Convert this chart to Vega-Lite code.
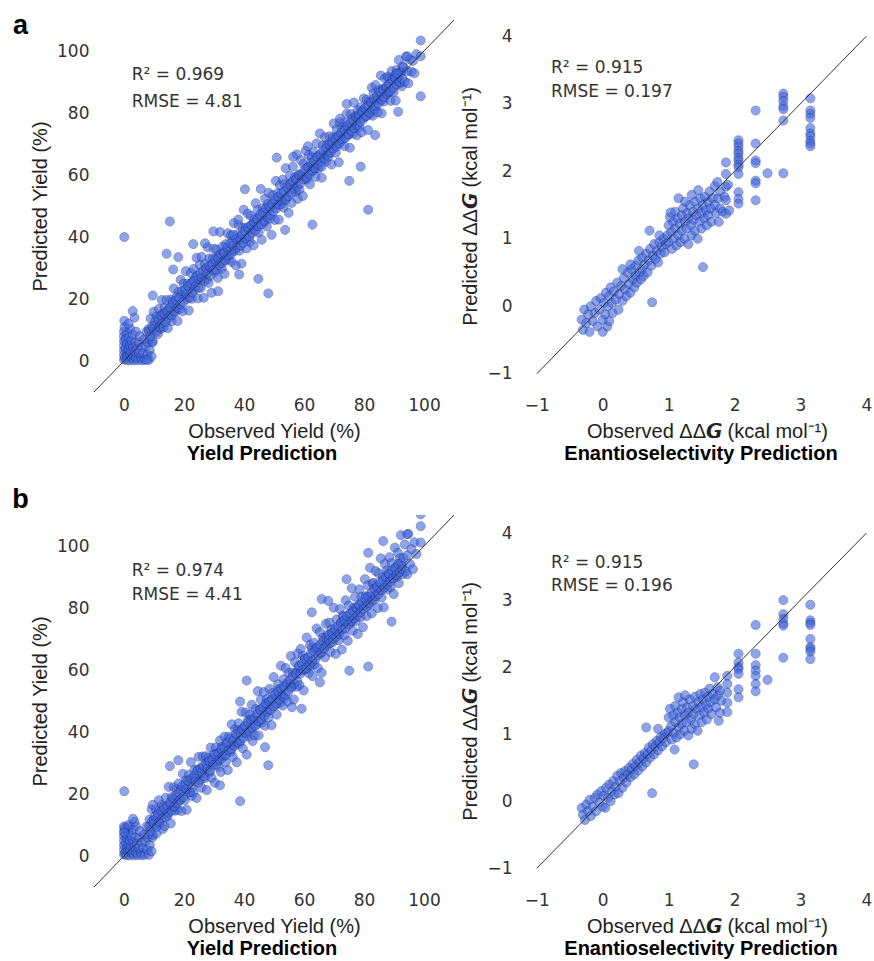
{
"$schema": "https://vega.github.io/schema/vega-lite/v6.json",
"padding": {"left": 12, "top": 12, "right": 0, "bottom": 0},
"background": "white",
"columns": 2,
"spacing": {"row": 123, "column": 63},
"bounds": "flush",
"datasets": {
"ya": [
{"obs":0,"pred":0.5},{"obs":0,"pred":2},{"obs":0,"pred":3.5},{"obs":0,"pred":5},{"obs":0,"pred":6.5},{"obs":0,"pred":8},{"obs":0,"pred":9.5},{"obs":0.3,"pred":1},{"obs":0.5,"pred":4},{"obs":0.5,"pred":7},{"obs":0.8,"pred":0.3},{"obs":1,"pred":2.5},{"obs":1,"pred":5.5},{"obs":1,"pred":9},{"obs":1.2,"pred":1.5},{"obs":1.5,"pred":3.8},{"obs":1.5,"pred":7.5},{"obs":1.8,"pred":0.2},{"obs":2,"pred":2},{"obs":2,"pred":5},{"obs":2,"pred":10.5},{"obs":2.3,"pred":3},{"obs":2.5,"pred":6.5},{"obs":2.7,"pred":0.8},{"obs":3,"pred":1.8},{"obs":3,"pred":4.5},{"obs":3,"pred":8.5},{"obs":3.3,"pred":0.2},{"obs":3.5,"pred":3},{"obs":3.8,"pred":6},{"obs":4,"pred":1},{"obs":4,"pred":9.5},{"obs":4.3,"pred":4},{"obs":4.6,"pred":0.3},{"obs":5,"pred":2.5},{"obs":5,"pred":6},{"obs":5.3,"pred":8},{"obs":5.6,"pred":1},{"obs":6,"pred":4.5},{"obs":6,"pred":0.2},{"obs":6.4,"pred":2.5},{"obs":6.8,"pred":7},{"obs":7,"pred":0.5},{"obs":7.2,"pred":4.8},{"obs":7.5,"pred":9.5},{"obs":7.8,"pred":2},{"obs":8,"pred":6},{"obs":8.3,"pred":0.4},{"obs":8.6,"pred":3.5},{"obs":9.2,"pred":1.5},{"obs":9.5,"pred":6},{"obs":0.2,"pred":11},{"obs":0.1,"pred":13},{"obs":1.5,"pred":12},{"obs":3.5,"pred":14},
{"obs":8.2,"pred":10.3},{"obs":8.5,"pred":7.0},{"obs":8.9,"pred":13.7},{"obs":9.2,"pred":9.5},{"obs":9.6,"pred":6.4},{"obs":9.9,"pred":15.9},{"obs":10.3,"pred":11.5},{"obs":10.6,"pred":9.8},{"obs":10.9,"pred":14.4},{"obs":11.3,"pred":8.7},{"obs":11.6,"pred":16.8},{"obs":12.0,"pred":12.9},{"obs":12.3,"pred":10.4},{"obs":12.6,"pred":19.7},{"obs":12.9,"pred":15.3},
{"obs":8.4,"pred":9.6},{"obs":8.8,"pred":7.9},{"obs":9.4,"pred":11.2},{"obs":9.8,"pred":10.5},{"obs":10.4,"pred":12.8},{"obs":10.8,"pred":9.4},{"obs":11.4,"pred":13.5},{"obs":11.8,"pred":11.0},{"obs":12.4,"pred":14.6},{"obs":12.8,"pred":12.1},
{"obs":13.2,"pred":10.8},{"obs":13.5,"pred":17.1},{"obs":13.9,"pred":14.6},{"obs":14.2,"pred":19.7},{"obs":14.6,"pred":10.6},{"obs":14.9,"pred":16.7},{"obs":15.3,"pred":14.8},{"obs":15.6,"pred":19.8},{"obs":15.9,"pred":12.8},{"obs":16.3,"pred":19.2},{"obs":16.6,"pred":23.4},{"obs":17.0,"pred":15.8},{"obs":17.3,"pred":17.7},{"obs":17.6,"pred":20.9},{"obs":17.9,"pred":12.9},
{"obs":13.4,"pred":15.2},{"obs":13.8,"pred":12.6},{"obs":14.4,"pred":16.1},{"obs":14.8,"pred":13.9},{"obs":15.4,"pred":17.3},{"obs":15.8,"pred":14.7},{"obs":16.4,"pred":18.5},{"obs":16.8,"pred":16.0},{"obs":17.4,"pred":19.6},{"obs":17.8,"pred":17.1},
{"obs":18.2,"pred":22.3},{"obs":18.5,"pred":16.7},{"obs":18.9,"pred":26.2},{"obs":19.2,"pred":21.4},{"obs":19.6,"pred":16.0},{"obs":19.9,"pred":24.9},{"obs":20.3,"pred":20.9},{"obs":20.6,"pred":29.0},{"obs":20.9,"pred":20.0},{"obs":21.3,"pred":25.0},{"obs":21.6,"pred":16.3},{"obs":22.0,"pred":23.4},{"obs":22.3,"pred":28.4},{"obs":22.6,"pred":20.1},{"obs":22.9,"pred":25.7},
{"obs":18.4,"pred":20.4},{"obs":18.8,"pred":18.2},{"obs":19.4,"pred":22.5},{"obs":19.8,"pred":19.0},{"obs":20.4,"pred":23.1},{"obs":20.8,"pred":21.6},{"obs":21.4,"pred":24.2},{"obs":21.8,"pred":20.5},{"obs":22.4,"pred":25.0},{"obs":22.8,"pred":22.1},
{"obs":23.2,"pred":29.7},{"obs":23.5,"pred":23.1},{"obs":23.9,"pred":26.9},{"obs":24.2,"pred":33.3},{"obs":24.6,"pred":20.2},{"obs":24.9,"pred":26.4},{"obs":25.3,"pred":31.1},{"obs":25.6,"pred":23.6},{"obs":25.9,"pred":33.6},{"obs":26.3,"pred":26.4},{"obs":26.6,"pred":20.4},{"obs":27.0,"pred":31.3},{"obs":27.3,"pred":29.3},{"obs":27.6,"pred":26.3},{"obs":27.9,"pred":36.7},
{"obs":23.4,"pred":25.8},{"obs":23.8,"pred":24.0},{"obs":24.4,"pred":27.5},{"obs":24.8,"pred":23.6},{"obs":25.4,"pred":28.3},{"obs":25.8,"pred":26.9},{"obs":26.4,"pred":29.1},{"obs":26.8,"pred":25.7},{"obs":27.4,"pred":30.0},{"obs":27.8,"pred":28.2},
{"obs":28.2,"pred":25.2},{"obs":28.5,"pred":33.1},{"obs":28.9,"pred":30.0},{"obs":29.2,"pred":22.0},{"obs":29.6,"pred":33.0},{"obs":29.9,"pred":36.2},{"obs":30.3,"pred":28.7},{"obs":30.6,"pred":31.4},{"obs":30.9,"pred":36.0},{"obs":31.3,"pred":26.8},{"obs":31.6,"pred":34.1},{"obs":32.0,"pred":41.6},{"obs":32.3,"pred":32.1},{"obs":32.6,"pred":29.8},{"obs":32.9,"pred":36.9},
{"obs":28.4,"pred":30.6},{"obs":28.8,"pred":27.5},{"obs":29.4,"pred":31.2},{"obs":29.8,"pred":29.4},{"obs":30.4,"pred":32.8},{"obs":30.8,"pred":29.6},{"obs":31.4,"pred":33.2},{"obs":31.8,"pred":31.0},{"obs":32.4,"pred":34.5},{"obs":32.8,"pred":31.6},
{"obs":33.2,"pred":35.1},{"obs":33.5,"pred":28.1},{"obs":33.9,"pred":37.7},{"obs":34.2,"pred":33.5},{"obs":34.6,"pred":41.2},{"obs":34.9,"pred":32.7},{"obs":35.3,"pred":35.6},{"obs":35.6,"pred":40.5},{"obs":35.9,"pred":32.0},{"obs":36.3,"pred":38.9},{"obs":36.6,"pred":44.5},{"obs":37.0,"pred":36.0},{"obs":37.3,"pred":30.8},{"obs":37.6,"pred":40.7},{"obs":37.9,"pred":38.8},
{"obs":33.4,"pred":34.8},{"obs":33.8,"pred":32.5},{"obs":34.4,"pred":36.6},{"obs":34.8,"pred":34.1},{"obs":35.4,"pred":37.9},{"obs":35.8,"pred":34.6},{"obs":36.4,"pred":37.2},{"obs":36.8,"pred":35.5},{"obs":37.4,"pred":39.4},{"obs":37.8,"pred":36.7},
{"obs":38.2,"pred":43.9},{"obs":38.5,"pred":35.6},{"obs":38.9,"pred":39.1},{"obs":39.2,"pred":31.4},{"obs":39.6,"pred":42.9},{"obs":39.9,"pred":48.8},{"obs":40.3,"pred":39.2},{"obs":40.6,"pred":43.0},{"obs":40.9,"pred":36.3},{"obs":41.3,"pred":47.5},{"obs":41.6,"pred":42.2},{"obs":42.0,"pred":38.5},{"obs":42.3,"pred":46.8},{"obs":42.6,"pred":43.9},{"obs":42.9,"pred":42.6},
{"obs":38.4,"pred":39.9},{"obs":38.8,"pred":37.2},{"obs":39.4,"pred":40.8},{"obs":39.8,"pred":38.1},{"obs":40.4,"pred":41.9},{"obs":40.8,"pred":39.6},{"obs":41.4,"pred":43.1},{"obs":41.8,"pred":40.2},{"obs":42.4,"pred":43.9},{"obs":42.8,"pred":41.3},
{"obs":43.2,"pred":37.3},{"obs":43.5,"pred":45.7},{"obs":43.9,"pred":50.9},{"obs":44.2,"pred":43.4},{"obs":44.6,"pred":48.7},{"obs":44.9,"pred":41.5},{"obs":45.3,"pred":46.3},{"obs":45.6,"pred":55.5},{"obs":45.9,"pred":39.1},{"obs":46.3,"pred":49.3},{"obs":46.6,"pred":44.7},{"obs":47.0,"pred":52.4},{"obs":47.3,"pred":47.4},{"obs":47.6,"pred":43.4},{"obs":47.9,"pred":50.6},
{"obs":43.4,"pred":44.6},{"obs":43.8,"pred":42.0},{"obs":44.4,"pred":45.8},{"obs":44.8,"pred":43.5},{"obs":45.4,"pred":47.2},{"obs":45.8,"pred":44.1},{"obs":46.4,"pred":47.9},{"obs":46.8,"pred":45.2},{"obs":47.4,"pred":49.3},{"obs":47.8,"pred":46.4},
{"obs":48.2,"pred":54.3},{"obs":48.5,"pred":45.9},{"obs":48.9,"pred":49.4},{"obs":49.2,"pred":40.7},{"obs":49.6,"pred":53.5},{"obs":49.9,"pred":51.5},{"obs":50.3,"pred":45.5},{"obs":50.6,"pred":58.1},{"obs":50.9,"pred":50.4},{"obs":51.3,"pred":54.2},{"obs":51.6,"pred":45.6},{"obs":52.0,"pred":56.7},{"obs":52.3,"pred":52.3},{"obs":52.6,"pred":50.5},{"obs":52.9,"pred":58.5},
{"obs":48.4,"pred":49.8},{"obs":48.8,"pred":47.1},{"obs":49.4,"pred":50.6},{"obs":49.8,"pred":48.3},{"obs":50.4,"pred":52.1},{"obs":50.8,"pred":49.2},{"obs":51.4,"pred":52.9},{"obs":51.8,"pred":50.4},{"obs":52.4,"pred":54.0},{"obs":52.8,"pred":51.5},
{"obs":53.2,"pred":49.5},{"obs":53.5,"pred":57.0},{"obs":53.9,"pred":62.2},{"obs":54.2,"pred":52.8},{"obs":54.6,"pred":55.5},{"obs":54.9,"pred":47.8},{"obs":55.3,"pred":59.7},{"obs":55.6,"pred":57.4},{"obs":55.9,"pred":51.0},{"obs":56.3,"pred":62.7},{"obs":56.6,"pred":56.5},{"obs":57.0,"pred":59.3},{"obs":57.3,"pred":54.6},{"obs":57.6,"pred":66.6},{"obs":57.9,"pred":52.3},
{"obs":53.4,"pred":54.6},{"obs":53.8,"pred":52.0},{"obs":54.4,"pred":55.9},{"obs":54.8,"pred":53.1},{"obs":55.4,"pred":56.8},{"obs":55.8,"pred":54.3},{"obs":56.4,"pred":58.0},{"obs":56.8,"pred":55.6},{"obs":57.4,"pred":58.7},{"obs":57.8,"pred":56.2},
{"obs":58.2,"pred":60.2},{"obs":58.5,"pred":55.2},{"obs":58.9,"pred":64.8},{"obs":59.2,"pred":59.6},{"obs":59.6,"pred":53.2},{"obs":59.9,"pred":63.5},{"obs":60.3,"pred":59.4},{"obs":60.6,"pred":67.8},{"obs":60.9,"pred":58.5},{"obs":61.3,"pred":62.5},{"obs":61.6,"pred":66.4},{"obs":62.0,"pred":57.0},{"obs":62.3,"pred":63.0},{"obs":62.6,"pred":65.7},{"obs":62.9,"pred":61.2},
{"obs":58.4,"pred":59.9},{"obs":58.8,"pred":57.3},{"obs":59.4,"pred":60.5},{"obs":59.8,"pred":58.6},{"obs":60.4,"pred":62.0},{"obs":60.8,"pred":59.1},{"obs":61.4,"pred":62.6},{"obs":61.8,"pred":60.2},{"obs":62.4,"pred":63.9},{"obs":62.8,"pred":61.4},
{"obs":63.2,"pred":67.4},{"obs":63.5,"pred":62.3},{"obs":63.9,"pred":59.4},{"obs":64.2,"pred":70.2},{"obs":64.6,"pred":66.1},{"obs":64.9,"pred":62.1},{"obs":65.3,"pred":73.4},{"obs":65.6,"pred":65.6},{"obs":65.9,"pred":59.1},{"obs":66.3,"pred":69.5},{"obs":66.6,"pred":66.2},{"obs":67.0,"pred":72.2},{"obs":67.3,"pred":64.3},{"obs":67.6,"pred":69.7},{"obs":67.9,"pred":66.9},
{"obs":63.4,"pred":64.5},{"obs":63.8,"pred":62.1},{"obs":64.4,"pred":65.8},{"obs":64.8,"pred":63.3},{"obs":65.4,"pred":66.6},{"obs":65.8,"pred":64.2},{"obs":66.4,"pred":67.9},{"obs":66.8,"pred":65.5},{"obs":67.4,"pred":68.8},{"obs":67.8,"pred":66.4},
{"obs":68.2,"pred":65.9},{"obs":68.5,"pred":72.5},{"obs":68.9,"pred":69.7},{"obs":69.2,"pred":63.4},{"obs":69.6,"pred":72.2},{"obs":69.9,"pred":76.6},{"obs":70.3,"pred":69.7},{"obs":70.6,"pred":67.2},{"obs":70.9,"pred":74.7},{"obs":71.3,"pred":72.3},{"obs":71.6,"pred":64.1},{"obs":72.0,"pred":77.0},{"obs":72.3,"pred":70.8},{"obs":72.6,"pred":75.1},{"obs":72.9,"pred":73.1},
{"obs":68.4,"pred":69.7},{"obs":68.8,"pred":67.3},{"obs":69.4,"pred":70.5},{"obs":69.8,"pred":68.6},{"obs":70.4,"pred":71.8},{"obs":70.8,"pred":69.2},{"obs":71.4,"pred":72.7},{"obs":71.8,"pred":70.1},{"obs":72.4,"pred":73.6},{"obs":72.8,"pred":71.5},
{"obs":73.2,"pred":76.8},{"obs":73.5,"pred":69.3},{"obs":73.9,"pred":75.2},{"obs":74.2,"pred":79.7},{"obs":74.6,"pred":72.7},{"obs":74.9,"pred":75.1},{"obs":75.3,"pred":68.8},{"obs":75.6,"pred":79.7},{"obs":75.9,"pred":78.1},{"obs":76.3,"pred":73.4},{"obs":76.6,"pred":83.4},{"obs":77.0,"pred":76.2},{"obs":77.3,"pred":79.1},{"obs":77.6,"pred":72.8},{"obs":77.9,"pred":80.9},
{"obs":73.4,"pred":74.4},{"obs":73.8,"pred":72.0},{"obs":74.4,"pred":75.9},{"obs":74.8,"pred":73.2},{"obs":75.4,"pred":76.7},{"obs":75.8,"pred":74.3},{"obs":76.4,"pred":77.5},{"obs":76.8,"pred":75.1},{"obs":77.4,"pred":78.6},{"obs":77.8,"pred":76.0},
{"obs":78.2,"pred":78.7},{"obs":78.5,"pred":75.5},{"obs":78.9,"pred":81.8},{"obs":79.2,"pred":73.8},{"obs":79.6,"pred":80.8},{"obs":79.9,"pred":84.7},{"obs":80.3,"pred":78.7},{"obs":80.6,"pred":80.4},{"obs":80.9,"pred":84.3},{"obs":81.3,"pred":74.5},{"obs":81.6,"pred":83.6},{"obs":82.0,"pred":79.6},{"obs":82.3,"pred":83.2},{"obs":82.6,"pred":88.2},{"obs":82.9,"pred":79.1},
{"obs":78.4,"pred":79.5},{"obs":78.8,"pred":77.1},{"obs":79.4,"pred":80.3},{"obs":79.8,"pred":78.2},{"obs":80.4,"pred":81.6},{"obs":80.8,"pred":79.0},{"obs":81.4,"pred":82.2},{"obs":81.8,"pred":80.1},{"obs":82.4,"pred":83.4},{"obs":82.8,"pred":81.0},
{"obs":83.2,"pred":86.4},{"obs":83.5,"pred":81.3},{"obs":83.9,"pred":89.0},{"obs":84.2,"pred":84.3},{"obs":84.6,"pred":80.2},{"obs":84.9,"pred":87.3},{"obs":85.3,"pred":84.4},{"obs":85.6,"pred":92.1},{"obs":85.9,"pred":79.9},{"obs":86.3,"pred":87.8},{"obs":86.6,"pred":83.7},{"obs":87.0,"pred":91.2},{"obs":87.3,"pred":87.9},{"obs":87.6,"pred":86.3},{"obs":87.9,"pred":91.7},
{"obs":83.4,"pred":84.7},{"obs":83.8,"pred":82.3},{"obs":84.4,"pred":85.5},{"obs":84.8,"pred":83.0},{"obs":85.4,"pred":86.8},{"obs":85.8,"pred":84.2},{"obs":86.4,"pred":87.4},{"obs":86.8,"pred":85.1},{"obs":87.4,"pred":88.5},{"obs":87.8,"pred":86.0},
{"obs":88.2,"pred":86.7},{"obs":88.5,"pred":91.3},{"obs":88.9,"pred":83.9},{"obs":89.2,"pred":93.5},{"obs":89.6,"pred":90.0},{"obs":89.9,"pred":86.8},{"obs":90.3,"pred":92.2},{"obs":90.6,"pred":84.0},{"obs":90.9,"pred":93.9},{"obs":91.3,"pred":90.6},{"obs":91.6,"pred":97.1},{"obs":92.0,"pred":89.5},{"obs":92.3,"pred":93.3},{"obs":92.6,"pred":88.6},{"obs":92.9,"pred":95.1},
{"obs":88.4,"pred":89.4},{"obs":88.8,"pred":87.0},{"obs":89.4,"pred":90.6},{"obs":89.8,"pred":88.1},{"obs":90.4,"pred":91.3},{"obs":90.8,"pred":89.2},{"obs":91.4,"pred":92.7},{"obs":91.8,"pred":90.0},{"obs":92.4,"pred":93.1},{"obs":92.8,"pred":91.0},
{"obs":93.2,"pred":94.7},{"obs":93.6,"pred":90.1},{"obs":94.0,"pred":98.2},{"obs":94.4,"pred":93.4},{"obs":94.8,"pred":89.6},{"obs":95.3,"pred":97.3},{"obs":95.8,"pred":93.3},{"obs":96.3,"pred":96.8},{"obs":96.8,"pred":92.8},{"obs":97.5,"pred":99.0},
{"obs":0.1,"pred":40},{"obs":15.3,"pred":45},{"obs":14.2,"pred":34.6},{"obs":18.1,"pred":33.5},{"obs":16.4,"pred":29.5},{"obs":23.1,"pred":37.7},{"obs":27,"pred":38},{"obs":9.6,"pred":21.1},{"obs":2.9,"pred":16.1},{"obs":44.8,"pred":26.5},{"obs":48.1,"pred":21.8},{"obs":62.8,"pred":44},{"obs":81.4,"pred":48.8},{"obs":75.1,"pred":58.1},{"obs":78.9,"pred":62.7},{"obs":50.9,"pred":65.6},{"obs":56.4,"pred":65.9},{"obs":40.3,"pred":55.4},{"obs":98.9,"pred":85.4},{"obs":98.9,"pred":98.3},{"obs":98.9,"pred":103.4},{"obs":94.4,"pred":98.3},{"obs":74.2,"pred":82.9},{"obs":72,"pred":78.2},{"obs":91.4,"pred":80.4},{"obs":90.9,"pred":92.7},{"obs":83.7,"pred":72.9},{"obs":29.8,"pred":41.8},{"obs":36.4,"pred":40.7},{"obs":53.7,"pred":42.3},{"obs":61.3,"pred":69.3},{"obs":65.9,"pred":62.7},{"obs":31.4,"pred":22.5},{"obs":38.4,"pred":27.9},{"obs":38.1,"pred":45.6},{"obs":7.6,"pred":0.3}
],
"yb": [
{"obs":0,"pred":0.5},{"obs":0,"pred":2},{"obs":0,"pred":3.5},{"obs":0,"pred":5},{"obs":0,"pred":6.5},{"obs":0,"pred":8},{"obs":0,"pred":9.5},{"obs":0.3,"pred":1},{"obs":0.5,"pred":4},{"obs":0.5,"pred":7},{"obs":0.8,"pred":0.3},{"obs":1,"pred":2.5},{"obs":1,"pred":5.5},{"obs":1,"pred":9},{"obs":1.2,"pred":1.5},{"obs":1.5,"pred":3.8},{"obs":1.5,"pred":7.5},{"obs":1.8,"pred":0.2},{"obs":2,"pred":2},{"obs":2,"pred":5},{"obs":2,"pred":9.5},{"obs":2.3,"pred":3},{"obs":2.5,"pred":6.5},{"obs":2.7,"pred":0.8},{"obs":3,"pred":1.8},{"obs":3,"pred":4.5},{"obs":3,"pred":8.5},{"obs":3.3,"pred":0.2},{"obs":3.5,"pred":3},{"obs":3.8,"pred":6},{"obs":4,"pred":1},{"obs":4,"pred":9.5},{"obs":4.3,"pred":4},{"obs":4.6,"pred":0.3},{"obs":5,"pred":2.5},{"obs":5,"pred":6},{"obs":5.3,"pred":8},{"obs":5.6,"pred":1},{"obs":6,"pred":4.5},{"obs":6,"pred":0.2},{"obs":6.4,"pred":2.5},{"obs":6.8,"pred":7},{"obs":7,"pred":0.5},{"obs":7.2,"pred":4.8},{"obs":7.5,"pred":9.5},{"obs":7.8,"pred":2},{"obs":8,"pred":6},{"obs":8.3,"pred":0.4},{"obs":8.6,"pred":3.5},{"obs":9.2,"pred":1.5},{"obs":9.5,"pred":6},{"obs":0.2,"pred":9},{"obs":0.1,"pred":7.5},{"obs":1.5,"pred":10},{"obs":3.5,"pred":11},
{"obs":8.2,"pred":7.0},{"obs":8.5,"pred":11.8},{"obs":8.9,"pred":9.4},{"obs":9.2,"pred":15.1},{"obs":9.6,"pred":6.8},{"obs":9.9,"pred":11.6},{"obs":10.3,"pred":9.9},{"obs":10.6,"pred":15.1},{"obs":10.9,"pred":7.3},{"obs":11.3,"pred":13.6},{"obs":11.6,"pred":18.0},{"obs":12.0,"pred":10.3},{"obs":12.3,"pred":13.2},{"obs":12.6,"pred":16.4},{"obs":12.9,"pred":8.7},
{"obs":8.4,"pred":9.6},{"obs":8.8,"pred":7.9},{"obs":9.4,"pred":11.2},{"obs":9.8,"pred":10.5},{"obs":10.4,"pred":12.8},{"obs":10.8,"pred":9.4},{"obs":11.4,"pred":13.5},{"obs":11.8,"pred":11.0},{"obs":12.4,"pred":14.6},{"obs":12.8,"pred":12.1},
{"obs":13.2,"pred":15.8},{"obs":13.5,"pred":9.6},{"obs":13.9,"pred":18.8},{"obs":14.2,"pred":14.4},{"obs":14.6,"pred":13.0},{"obs":14.9,"pred":22.3},{"obs":15.3,"pred":16.6},{"obs":15.6,"pred":10.5},{"obs":15.9,"pred":19.0},{"obs":16.3,"pred":15.6},{"obs":16.6,"pred":22.2},{"obs":17.0,"pred":14.6},{"obs":17.3,"pred":18.1},{"obs":17.6,"pred":21.6},{"obs":17.9,"pred":14.9},
{"obs":13.4,"pred":15.2},{"obs":13.8,"pred":12.6},{"obs":14.4,"pred":16.1},{"obs":14.8,"pred":13.9},{"obs":15.4,"pred":17.3},{"obs":15.8,"pred":14.7},{"obs":16.4,"pred":18.5},{"obs":16.8,"pred":16.0},{"obs":17.4,"pred":19.6},{"obs":17.8,"pred":17.1},
{"obs":18.2,"pred":23.4},{"obs":18.5,"pred":17.9},{"obs":18.9,"pred":21.3},{"obs":19.2,"pred":14.5},{"obs":19.6,"pred":26.5},{"obs":19.9,"pred":20.8},{"obs":20.3,"pred":18.0},{"obs":20.6,"pred":24.4},{"obs":20.9,"pred":14.9},{"obs":21.3,"pred":22.9},{"obs":21.6,"pred":26.2},{"obs":22.0,"pred":20.6},{"obs":22.3,"pred":30.3},{"obs":22.6,"pred":19.4},{"obs":22.9,"pred":24.9},
{"obs":18.4,"pred":20.4},{"obs":18.8,"pred":18.2},{"obs":19.4,"pred":22.5},{"obs":19.8,"pred":19.0},{"obs":20.4,"pred":23.1},{"obs":20.8,"pred":21.6},{"obs":21.4,"pred":24.2},{"obs":21.8,"pred":20.5},{"obs":22.4,"pred":25.0},{"obs":22.8,"pred":22.1},
{"obs":23.2,"pred":20.5},{"obs":23.5,"pred":27.8},{"obs":23.9,"pred":24.9},{"obs":24.2,"pred":18.7},{"obs":24.6,"pred":27.8},{"obs":24.9,"pred":32.0},{"obs":25.3,"pred":24.5},{"obs":25.6,"pred":28.1},{"obs":25.9,"pred":22.0},{"obs":26.3,"pred":32.1},{"obs":26.6,"pred":26.9},{"obs":27.0,"pred":25.1},{"obs":27.3,"pred":32.2},{"obs":27.6,"pred":21.3},{"obs":27.9,"pred":30.1},
{"obs":23.4,"pred":25.8},{"obs":23.8,"pred":24.0},{"obs":24.4,"pred":27.5},{"obs":24.8,"pred":23.6},{"obs":25.4,"pred":28.3},{"obs":25.8,"pred":26.9},{"obs":26.4,"pred":29.1},{"obs":26.8,"pred":25.7},{"obs":27.4,"pred":30.0},{"obs":27.8,"pred":28.2},
{"obs":28.2,"pred":31.6},{"obs":28.5,"pred":27.0},{"obs":28.9,"pred":35.0},{"obs":29.2,"pred":25.2},{"obs":29.6,"pred":30.2},{"obs":29.9,"pred":32.8},{"obs":30.3,"pred":23.6},{"obs":30.6,"pred":35.0},{"obs":30.9,"pred":30.6},{"obs":31.3,"pred":33.1},{"obs":31.6,"pred":28.7},{"obs":32.0,"pred":37.3},{"obs":32.3,"pred":27.1},{"obs":32.6,"pred":35.2},{"obs":32.9,"pred":32.9},
{"obs":28.4,"pred":30.6},{"obs":28.8,"pred":27.5},{"obs":29.4,"pred":31.2},{"obs":29.8,"pred":29.4},{"obs":30.4,"pred":32.8},{"obs":30.8,"pred":29.6},{"obs":31.4,"pred":33.2},{"obs":31.8,"pred":31.0},{"obs":32.4,"pred":34.5},{"obs":32.8,"pred":31.6},
{"obs":33.2,"pred":32.3},{"obs":33.5,"pred":38.5},{"obs":33.9,"pred":30.2},{"obs":34.2,"pred":36.3},{"obs":34.6,"pred":27.7},{"obs":34.9,"pred":38.5},{"obs":35.3,"pred":35.7},{"obs":35.6,"pred":33.6},{"obs":35.9,"pred":42.5},{"obs":36.3,"pred":31.9},{"obs":36.6,"pred":37.8},{"obs":37.0,"pred":40.9},{"obs":37.3,"pred":36.0},{"obs":37.6,"pred":30.2},{"obs":37.9,"pred":40.6},
{"obs":33.4,"pred":34.8},{"obs":33.8,"pred":32.5},{"obs":34.4,"pred":36.6},{"obs":34.8,"pred":34.1},{"obs":35.4,"pred":37.9},{"obs":35.8,"pred":34.6},{"obs":36.4,"pred":37.2},{"obs":36.8,"pred":35.5},{"obs":37.4,"pred":39.4},{"obs":37.8,"pred":36.7},
{"obs":38.2,"pred":42.8},{"obs":38.5,"pred":36.3},{"obs":38.9,"pred":39.7},{"obs":39.2,"pred":46.5},{"obs":39.6,"pred":34.7},{"obs":39.9,"pred":41.4},{"obs":40.3,"pred":39.8},{"obs":40.6,"pred":46.3},{"obs":40.9,"pred":32.7},{"obs":41.3,"pred":43.7},{"obs":41.6,"pred":38.5},{"obs":42.0,"pred":45.6},{"obs":42.3,"pred":40.9},{"obs":42.6,"pred":48.8},{"obs":42.9,"pred":37.1},
{"obs":38.4,"pred":39.9},{"obs":38.8,"pred":37.2},{"obs":39.4,"pred":40.8},{"obs":39.8,"pred":38.1},{"obs":40.4,"pred":41.9},{"obs":40.8,"pred":39.6},{"obs":41.4,"pred":43.1},{"obs":41.8,"pred":40.2},{"obs":42.4,"pred":43.9},{"obs":42.8,"pred":41.3},
{"obs":43.2,"pred":44.1},{"obs":43.5,"pred":38.9},{"obs":43.9,"pred":47.4},{"obs":44.2,"pred":42.5},{"obs":44.6,"pred":53.2},{"obs":44.9,"pred":38.9},{"obs":45.3,"pred":47.3},{"obs":45.6,"pred":50.4},{"obs":45.9,"pred":43.0},{"obs":46.3,"pred":46.1},{"obs":46.6,"pred":52.9},{"obs":47.0,"pred":42.0},{"obs":47.3,"pred":48.7},{"obs":47.6,"pred":50.6},{"obs":47.9,"pred":46.9},
{"obs":43.4,"pred":44.6},{"obs":43.8,"pred":42.0},{"obs":44.4,"pred":45.8},{"obs":44.8,"pred":43.5},{"obs":45.4,"pred":47.2},{"obs":45.8,"pred":44.1},{"obs":46.4,"pred":47.9},{"obs":46.8,"pred":45.2},{"obs":47.4,"pred":49.3},{"obs":47.8,"pred":46.4},
{"obs":48.2,"pred":44.7},{"obs":48.5,"pred":53.9},{"obs":48.9,"pred":50.1},{"obs":49.2,"pred":42.2},{"obs":49.6,"pred":52.6},{"obs":49.9,"pred":57.7},{"obs":50.3,"pred":48.5},{"obs":50.6,"pred":51.1},{"obs":50.9,"pred":45.6},{"obs":51.3,"pred":55.4},{"obs":51.6,"pred":53.8},{"obs":52.0,"pred":49.4},{"obs":52.3,"pred":61.4},{"obs":52.6,"pred":52.2},{"obs":52.9,"pred":48.5},
{"obs":48.4,"pred":49.8},{"obs":48.8,"pred":47.1},{"obs":49.4,"pred":50.6},{"obs":49.8,"pred":48.3},{"obs":50.4,"pred":52.1},{"obs":50.8,"pred":49.2},{"obs":51.4,"pred":52.9},{"obs":51.8,"pred":50.4},{"obs":52.4,"pred":54.0},{"obs":52.8,"pred":51.5},
{"obs":53.2,"pred":57.0},{"obs":53.5,"pred":51.0},{"obs":53.9,"pred":60.6},{"obs":54.2,"pred":55.2},{"obs":54.6,"pred":49.8},{"obs":54.9,"pred":59.1},{"obs":55.3,"pred":55.3},{"obs":55.6,"pred":64.5},{"obs":55.9,"pred":54.7},{"obs":56.3,"pred":59.1},{"obs":56.6,"pred":50.5},{"obs":57.0,"pred":62.5},{"obs":57.3,"pred":59.2},{"obs":57.6,"pred":54.6},{"obs":57.9,"pred":65.3},
{"obs":53.4,"pred":54.6},{"obs":53.8,"pred":52.0},{"obs":54.4,"pred":55.9},{"obs":54.8,"pred":53.1},{"obs":55.4,"pred":56.8},{"obs":55.8,"pred":54.3},{"obs":56.4,"pred":58.0},{"obs":56.8,"pred":55.6},{"obs":57.4,"pred":58.7},{"obs":57.8,"pred":56.2},
{"obs":58.2,"pred":61.1},{"obs":58.5,"pred":55.1},{"obs":58.9,"pred":66.8},{"obs":59.2,"pred":59.8},{"obs":59.6,"pred":64.6},{"obs":59.9,"pred":53.4},{"obs":60.3,"pred":63.6},{"obs":60.6,"pred":60.1},{"obs":60.9,"pred":70.5},{"obs":61.3,"pred":62.7},{"obs":61.6,"pred":59.0},{"obs":62.0,"pred":68.1},{"obs":62.3,"pred":61.3},{"obs":62.6,"pred":67.0},{"obs":62.9,"pred":58.0},
{"obs":58.4,"pred":61.4},{"obs":58.8,"pred":58.8},{"obs":59.4,"pred":62.0},{"obs":59.8,"pred":60.1},{"obs":60.4,"pred":63.5},{"obs":60.8,"pred":60.6},{"obs":61.4,"pred":64.1},{"obs":61.8,"pred":61.7},{"obs":62.4,"pred":65.4},{"obs":62.8,"pred":62.9},
{"obs":63.2,"pred":68.8},{"obs":63.5,"pred":61.9},{"obs":63.9,"pred":66.9},{"obs":64.2,"pred":73.4},{"obs":64.6,"pred":60.6},{"obs":64.9,"pred":66.6},{"obs":65.3,"pred":72.2},{"obs":65.6,"pred":65.4},{"obs":65.9,"pred":59.1},{"obs":66.3,"pred":70.4},{"obs":66.6,"pred":69.0},{"obs":67.0,"pred":64.1},{"obs":67.3,"pred":74.9},{"obs":67.6,"pred":68.4},{"obs":67.9,"pred":71.4},
{"obs":63.4,"pred":66.0},{"obs":63.8,"pred":63.6},{"obs":64.4,"pred":67.3},{"obs":64.8,"pred":64.8},{"obs":65.4,"pred":68.1},{"obs":65.8,"pred":65.7},{"obs":66.4,"pred":69.4},{"obs":66.8,"pred":67.0},{"obs":67.4,"pred":70.3},{"obs":67.8,"pred":67.9},
{"obs":68.2,"pred":69.8},{"obs":68.5,"pred":75.3},{"obs":68.9,"pred":65.8},{"obs":69.2,"pred":73.1},{"obs":69.6,"pred":68.9},{"obs":69.9,"pred":80.1},{"obs":70.3,"pred":72.6},{"obs":70.6,"pred":65.2},{"obs":70.9,"pred":76.3},{"obs":71.3,"pred":71.5},{"obs":71.6,"pred":69.6},{"obs":72.0,"pred":79.7},{"obs":72.3,"pred":75.4},{"obs":72.6,"pred":66.6},{"obs":72.9,"pred":77.5},
{"obs":68.4,"pred":71.2},{"obs":68.8,"pred":68.8},{"obs":69.4,"pred":72.0},{"obs":69.8,"pred":70.1},{"obs":70.4,"pred":73.3},{"obs":70.8,"pred":70.7},{"obs":71.4,"pred":74.2},{"obs":71.8,"pred":71.6},{"obs":72.4,"pred":75.1},{"obs":72.8,"pred":73.0},
{"obs":73.2,"pred":77.2},{"obs":73.5,"pred":71.2},{"obs":73.9,"pred":82.5},{"obs":74.2,"pred":75.3},{"obs":74.6,"pred":69.4},{"obs":74.9,"pred":80.8},{"obs":75.3,"pred":78.1},{"obs":75.6,"pred":75.2},{"obs":75.9,"pred":86.4},{"obs":76.3,"pred":72.7},{"obs":76.6,"pred":80.0},{"obs":77.0,"pred":83.6},{"obs":77.3,"pred":75.8},{"obs":77.6,"pred":79.5},{"obs":77.9,"pred":71.6},
{"obs":73.4,"pred":75.9},{"obs":73.8,"pred":73.5},{"obs":74.4,"pred":77.4},{"obs":74.8,"pred":74.7},{"obs":75.4,"pred":78.2},{"obs":75.8,"pred":75.8},{"obs":76.4,"pred":79.0},{"obs":76.8,"pred":76.6},{"obs":77.4,"pred":80.1},{"obs":77.8,"pred":77.5},
{"obs":78.2,"pred":80.8},{"obs":78.5,"pred":86.0},{"obs":78.9,"pred":77.0},{"obs":79.2,"pred":83.6},{"obs":79.6,"pred":73.8},{"obs":79.9,"pred":80.8},{"obs":80.3,"pred":89.3},{"obs":80.6,"pred":83.8},{"obs":80.9,"pred":77.4},{"obs":81.3,"pred":87.3},{"obs":81.6,"pred":81.0},{"obs":82.0,"pred":93.0},{"obs":82.3,"pred":83.8},{"obs":82.6,"pred":78.3},{"obs":82.9,"pred":87.9},
{"obs":78.4,"pred":81.0},{"obs":78.8,"pred":78.6},{"obs":79.4,"pred":81.8},{"obs":79.8,"pred":79.7},{"obs":80.4,"pred":83.1},{"obs":80.8,"pred":80.5},{"obs":81.4,"pred":83.7},{"obs":81.8,"pred":81.6},{"obs":82.4,"pred":84.9},{"obs":82.8,"pred":82.5},
{"obs":83.2,"pred":88.1},{"obs":83.5,"pred":82.7},{"obs":83.9,"pred":91.9},{"obs":84.2,"pred":86.5},{"obs":84.6,"pred":80.0},{"obs":84.9,"pred":91.2},{"obs":85.3,"pred":85.8},{"obs":85.6,"pred":96.0},{"obs":85.9,"pred":83.4},{"obs":86.3,"pred":89.9},{"obs":86.6,"pred":80.2},{"obs":87.0,"pred":94.2},{"obs":87.3,"pred":88.5},{"obs":87.6,"pred":92.1},{"obs":87.9,"pred":86.0},
{"obs":83.4,"pred":86.2},{"obs":83.8,"pred":83.8},{"obs":84.4,"pred":87.0},{"obs":84.8,"pred":84.5},{"obs":85.4,"pred":88.3},{"obs":85.8,"pred":85.7},{"obs":86.4,"pred":88.9},{"obs":86.8,"pred":86.6},{"obs":87.4,"pred":90.0},{"obs":87.8,"pred":87.5},
{"obs":88.2,"pred":91.2},{"obs":88.5,"pred":96.4},{"obs":88.9,"pred":86.7},{"obs":89.2,"pred":94.5},{"obs":89.6,"pred":89.7},{"obs":89.9,"pred":84.5},{"obs":90.3,"pred":99.5},{"obs":90.6,"pred":93.1},{"obs":90.9,"pred":90.0},{"obs":91.3,"pred":97.8},{"obs":91.6,"pred":88.0},{"obs":92.0,"pred":96.0},{"obs":92.3,"pred":103.5},{"obs":92.6,"pred":93.6},{"obs":92.9,"pred":90.9},
{"obs":88.4,"pred":90.9},{"obs":88.8,"pred":88.5},{"obs":89.4,"pred":92.1},{"obs":89.8,"pred":89.6},{"obs":90.4,"pred":92.8},{"obs":90.8,"pred":90.7},{"obs":91.4,"pred":94.2},{"obs":91.8,"pred":91.5},{"obs":92.4,"pred":94.6},{"obs":92.8,"pred":92.5},
{"obs":93.2,"pred":96.1},{"obs":93.6,"pred":100.5},{"obs":94.0,"pred":91.8},{"obs":94.4,"pred":97.0},{"obs":94.8,"pred":103.9},{"obs":95.3,"pred":94.2},{"obs":95.8,"pred":99.0},{"obs":96.3,"pred":92.5},{"obs":96.8,"pred":101.2},{"obs":97.5,"pred":97.4},
{"obs":0.1,"pred":20.9},{"obs":15.3,"pred":29},{"obs":18.1,"pred":30.9},{"obs":38.7,"pred":17.7},{"obs":48.1,"pred":29.3},{"obs":47,"pred":35.1},{"obs":32,"pred":22.8},{"obs":40.9,"pred":56.6},{"obs":38.7,"pred":49.8},{"obs":59.2,"pred":47.5},{"obs":56,"pred":48},{"obs":65.3,"pred":56},{"obs":75.1,"pred":59.8},{"obs":81.4,"pred":61.1},{"obs":89.2,"pred":75.6},{"obs":62.6,"pred":78.6},{"obs":65.9,"pred":82.9},{"obs":81.4,"pred":97.8},{"obs":86.4,"pred":101.6},{"obs":94.4,"pred":103.8},{"obs":94.4,"pred":90.9},{"obs":98.9,"pred":101.1},{"obs":98.9,"pred":106.4},{"obs":98.9,"pred":110.2},{"obs":74.2,"pred":89.3},{"obs":68.1,"pred":82.3},{"obs":9.6,"pred":16.5},{"obs":3,"pred":12}
],
"ea": [
{"obs":-0.32,"pred":-0.2},{"obs":-0.3,"pred":-0.35},{"obs":-0.28,"pred":-0.05},{"obs":-0.25,"pred":-0.25},{"obs":-0.22,"pred":-0.12},{"obs":-0.2,"pred":-0.38},{"obs":-0.18,"pred":0.0},{"obs":-0.15,"pred":-0.22},{"obs":-0.12,"pred":-0.1},{"obs":-0.1,"pred":0.08},{"obs":-0.08,"pred":-0.3},{"obs":-0.05,"pred":-0.05},{"obs":-0.03,"pred":0.12},{"obs":0.0,"pred":-0.2},{"obs":0.0,"pred":-0.38},{"obs":0.02,"pred":0.05},{"obs":0.04,"pred":-0.12},{"obs":0.05,"pred":0.2},{"obs":0.07,"pred":-0.3},{"obs":0.08,"pred":0.0},{"obs":0.1,"pred":0.15},{"obs":0.1,"pred":-0.22},{"obs":0.12,"pred":0.28},{"obs":0.14,"pred":0.05},{"obs":0.15,"pred":-0.1},{"obs":0.17,"pred":0.22},{"obs":0.2,"pred":0.1},{"obs":0.22,"pred":0.35},{"obs":0.24,"pred":-0.05},{"obs":0.25,"pred":0.18},{"obs":0.28,"pred":0.3},{"obs":0.3,"pred":0.08},
{"obs":0.32,"pred":0.42},{"obs":0.34,"pred":0.25},{"obs":0.36,"pred":0.15},{"obs":0.38,"pred":0.5},{"obs":0.4,"pred":0.33},{"obs":0.42,"pred":0.2},{"obs":0.44,"pred":0.55},{"obs":0.46,"pred":0.4},{"obs":0.48,"pred":0.28},{"obs":0.5,"pred":0.6},{"obs":0.5,"pred":0.45},{"obs":0.52,"pred":0.35},{"obs":0.54,"pred":0.68},{"obs":0.56,"pred":0.5},{"obs":0.58,"pred":0.4},{"obs":0.6,"pred":0.72},{"obs":0.6,"pred":0.55},{"obs":0.62,"pred":0.45},{"obs":0.64,"pred":0.62},{"obs":0.66,"pred":0.78},{"obs":0.68,"pred":0.5},{"obs":0.7,"pred":0.68},{"obs":0.72,"pred":0.85},{"obs":0.74,"pred":0.6},{"obs":0.76,"pred":0.75},{"obs":0.78,"pred":0.92},{"obs":0.8,"pred":0.7},{"obs":0.82,"pred":0.82},{"obs":0.84,"pred":0.65},{"obs":0.86,"pred":0.95},{"obs":0.88,"pred":0.78},{"obs":0.9,"pred":0.88},{"obs":0.92,"pred":1.0},{"obs":0.94,"pred":0.8},{"obs":0.96,"pred":0.92},{"obs":0.98,"pred":1.05},
{"obs":0.75,"pred":0.06},{"obs":0.71,"pred":1.12},{"obs":0.86,"pred":1.05},{"obs":0.55,"pred":0.82},{"obs":0.3,"pred":0.55},{"obs":0.42,"pred":0.62},
{"obs":1.0,"pred":0.95},{"obs":1.0,"pred":1.2},{"obs":1.02,"pred":1.32},{"obs":1.04,"pred":1.1},{"obs":1.05,"pred":0.85},{"obs":1.07,"pred":1.25},{"obs":1.08,"pred":1.0},{"obs":1.1,"pred":1.4},{"obs":1.1,"pred":1.15},{"obs":1.12,"pred":0.9},{"obs":1.14,"pred":1.3},{"obs":1.15,"pred":1.05},{"obs":1.17,"pred":1.22},{"obs":1.18,"pred":0.95},{"obs":1.2,"pred":1.35},{"obs":1.2,"pred":1.12},{"obs":1.22,"pred":1.45},{"obs":1.24,"pred":1.0},{"obs":1.25,"pred":1.25},{"obs":1.27,"pred":1.15},{"obs":1.28,"pred":1.38},{"obs":1.3,"pred":0.92},{"obs":1.3,"pred":1.3},{"obs":1.32,"pred":1.5},{"obs":1.34,"pred":1.2},{"obs":1.35,"pred":1.05},{"obs":1.37,"pred":1.4},{"obs":1.38,"pred":1.28},{"obs":1.4,"pred":1.55},{"obs":1.4,"pred":1.12},{"obs":1.42,"pred":1.35},{"obs":1.44,"pred":1.0},{"obs":1.45,"pred":1.45},{"obs":1.47,"pred":1.25},{"obs":1.48,"pred":1.6},{"obs":1.5,"pred":1.38},{"obs":1.5,"pred":1.15},{"obs":1.52,"pred":0.58},{"obs":1.52,"pred":1.5},{"obs":1.54,"pred":1.3},{"obs":1.55,"pred":1.62},{"obs":1.57,"pred":1.42},{"obs":1.58,"pred":1.2},{"obs":1.6,"pred":1.55},{"obs":1.6,"pred":1.35},{"obs":1.62,"pred":1.7},{"obs":1.64,"pred":1.45},{"obs":1.65,"pred":1.25},{"obs":1.67,"pred":1.6},{"obs":1.7,"pred":1.5},{"obs":1.7,"pred":1.78},{"obs":1.72,"pred":1.38},{"obs":1.74,"pred":1.84},{"obs":1.75,"pred":1.6},{"obs":1.78,"pred":1.7},{"obs":1.03,"pred":1.39},{"obs":1.15,"pred":1.6},{"obs":1.25,"pred":1.55},{"obs":1.35,"pred":1.65},{"obs":1.45,"pred":1.72},{"obs":1.76,"pred":1.25},{"obs":1.78,"pred":1.45},
{"obs":1.82,"pred":1.4},{"obs":1.85,"pred":1.62},{"obs":1.87,"pred":1.37},{"obs":1.87,"pred":1.57},{"obs":1.87,"pred":1.77},{"obs":1.87,"pred":1.96},{"obs":1.87,"pred":2.13},{"obs":1.9,"pred":1.8},{"obs":1.92,"pred":1.42},
{"obs":2.06,"pred":2.46},{"obs":2.06,"pred":2.41},{"obs":2.06,"pred":2.36},{"obs":2.06,"pred":2.3},{"obs":2.06,"pred":2.26},{"obs":2.06,"pred":2.2},{"obs":2.06,"pred":2.16},{"obs":2.06,"pred":2.1},{"obs":2.06,"pred":2.06},{"obs":2.06,"pred":1.96},{"obs":2.06,"pred":1.69},{"obs":2.06,"pred":1.59},{"obs":2.06,"pred":1.52},
{"obs":2.32,"pred":2.9},{"obs":2.32,"pred":2.41},{"obs":2.32,"pred":2.16},{"obs":2.32,"pred":2.12},{"obs":2.32,"pred":1.86},{"obs":2.32,"pred":1.82},{"obs":2.32,"pred":1.57},{"obs":2.5,"pred":1.97},{"obs":2.74,"pred":1.97},
{"obs":2.74,"pred":3.15},{"obs":2.74,"pred":3.1},{"obs":2.74,"pred":3.04},{"obs":2.74,"pred":2.96},{"obs":2.74,"pred":2.92},{"obs":2.74,"pred":2.75},
{"obs":3.15,"pred":3.08},{"obs":3.15,"pred":2.9},{"obs":3.15,"pred":2.85},{"obs":3.15,"pred":2.79},{"obs":3.15,"pred":2.64},{"obs":3.15,"pred":2.56},{"obs":3.15,"pred":2.52},{"obs":3.15,"pred":2.45},{"obs":3.15,"pred":2.41},{"obs":3.15,"pred":2.37}
],
"eb": [
{"obs":-0.32,"pred":-0.1},{"obs":-0.3,"pred":-0.2},{"obs":-0.27,"pred":-0.28},{"obs":-0.25,"pred":-0.05},{"obs":-0.22,"pred":-0.15},{"obs":-0.2,"pred":0.02},{"obs":-0.18,"pred":-0.22},{"obs":-0.15,"pred":-0.08},{"obs":-0.12,"pred":0.05},{"obs":-0.1,"pred":-0.15},{"obs":-0.08,"pred":0.1},{"obs":-0.05,"pred":-0.02},{"obs":-0.02,"pred":0.15},{"obs":0.0,"pred":-0.08},{"obs":0.02,"pred":0.08},{"obs":0.04,"pred":-0.1},{"obs":0.05,"pred":0.2},{"obs":0.08,"pred":0.05},{"obs":0.1,"pred":0.25},{"obs":0.12,"pred":0.0},{"obs":0.14,"pred":0.15},{"obs":0.16,"pred":0.3},{"obs":0.18,"pred":0.1},{"obs":0.2,"pred":0.22},{"obs":0.22,"pred":0.38},{"obs":0.24,"pred":0.12},{"obs":0.26,"pred":0.3},{"obs":0.28,"pred":0.42},{"obs":0.3,"pred":0.2},
{"obs":0.32,"pred":0.35},{"obs":0.34,"pred":0.45},{"obs":0.36,"pred":0.28},{"obs":0.38,"pred":0.4},{"obs":0.4,"pred":0.5},{"obs":0.42,"pred":0.36},{"obs":0.44,"pred":0.48},{"obs":0.46,"pred":0.56},{"obs":0.48,"pred":0.4},{"obs":0.5,"pred":0.52},{"obs":0.52,"pred":0.62},{"obs":0.54,"pred":0.46},{"obs":0.56,"pred":0.58},{"obs":0.58,"pred":0.68},{"obs":0.6,"pred":0.52},{"obs":0.62,"pred":0.64},{"obs":0.64,"pred":0.72},{"obs":0.66,"pred":0.58},{"obs":0.68,"pred":0.7},{"obs":0.7,"pred":0.8},{"obs":0.72,"pred":0.65},{"obs":0.74,"pred":0.76},{"obs":0.76,"pred":0.85},{"obs":0.78,"pred":0.7},{"obs":0.8,"pred":0.82},{"obs":0.82,"pred":0.9},{"obs":0.84,"pred":0.76},{"obs":0.86,"pred":0.88},{"obs":0.88,"pred":0.96},{"obs":0.9,"pred":0.82},{"obs":0.92,"pred":0.94},{"obs":0.94,"pred":1.0},{"obs":0.96,"pred":0.88},{"obs":0.98,"pred":1.02},
{"obs":0.75,"pred":0.12},{"obs":1.38,"pred":0.55},{"obs":0.66,"pred":1.1},{"obs":0.84,"pred":1.08},{"obs":1.09,"pred":0.77},
{"obs":1.0,"pred":1.05},{"obs":1.0,"pred":1.25},{"obs":1.02,"pred":1.38},{"obs":1.04,"pred":1.12},{"obs":1.05,"pred":0.92},{"obs":1.07,"pred":1.28},{"obs":1.08,"pred":1.02},{"obs":1.1,"pred":1.42},{"obs":1.1,"pred":1.18},{"obs":1.12,"pred":0.95},{"obs":1.14,"pred":1.32},{"obs":1.15,"pred":1.1},{"obs":1.17,"pred":1.25},{"obs":1.18,"pred":1.0},{"obs":1.2,"pred":1.38},{"obs":1.2,"pred":1.15},{"obs":1.22,"pred":1.48},{"obs":1.24,"pred":1.05},{"obs":1.25,"pred":1.28},{"obs":1.27,"pred":1.18},{"obs":1.28,"pred":1.4},{"obs":1.3,"pred":0.98},{"obs":1.3,"pred":1.32},{"obs":1.32,"pred":1.52},{"obs":1.34,"pred":1.22},{"obs":1.35,"pred":1.08},{"obs":1.37,"pred":1.42},{"obs":1.38,"pred":1.3},{"obs":1.4,"pred":1.56},{"obs":1.4,"pred":1.15},{"obs":1.42,"pred":1.38},{"obs":1.44,"pred":1.05},{"obs":1.45,"pred":1.48},{"obs":1.47,"pred":1.28},{"obs":1.48,"pred":1.6},{"obs":1.5,"pred":1.4},{"obs":1.5,"pred":1.18},{"obs":1.52,"pred":1.52},{"obs":1.54,"pred":1.32},{"obs":1.55,"pred":1.62},{"obs":1.57,"pred":1.44},{"obs":1.58,"pred":1.22},{"obs":1.6,"pred":1.56},{"obs":1.6,"pred":1.38},{"obs":1.62,"pred":1.68},{"obs":1.64,"pred":1.48},{"obs":1.65,"pred":1.3},{"obs":1.67,"pred":1.6},{"obs":1.7,"pred":1.52},{"obs":1.7,"pred":1.85},{"obs":1.72,"pred":1.4},{"obs":1.74,"pred":1.7},{"obs":1.75,"pred":1.58},{"obs":1.78,"pred":1.65},{"obs":1.8,"pred":1.5},{"obs":1.76,"pred":1.2},{"obs":1.78,"pred":1.32},{"obs":1.15,"pred":1.55},{"obs":1.25,"pred":1.58},
{"obs":1.89,"pred":1.87},{"obs":1.89,"pred":1.75},{"obs":1.89,"pred":1.62},{"obs":1.89,"pred":1.47},{"obs":1.89,"pred":1.33},
{"obs":2.06,"pred":2.2},{"obs":2.06,"pred":2.07},{"obs":2.06,"pred":2.0},{"obs":2.06,"pred":1.97},{"obs":2.06,"pred":1.9},{"obs":2.06,"pred":1.67},{"obs":2.06,"pred":1.55},
{"obs":2.32,"pred":2.63},{"obs":2.32,"pred":2.2},{"obs":2.32,"pred":2.03},{"obs":2.32,"pred":1.95},{"obs":2.32,"pred":1.87},{"obs":2.32,"pred":1.75},{"obs":2.32,"pred":1.64},{"obs":2.5,"pred":1.81},
{"obs":2.74,"pred":3.0},{"obs":2.74,"pred":2.79},{"obs":2.74,"pred":2.72},{"obs":2.74,"pred":2.65},{"obs":2.74,"pred":2.62},{"obs":2.74,"pred":2.14},
{"obs":3.15,"pred":2.93},{"obs":3.15,"pred":2.7},{"obs":3.15,"pred":2.66},{"obs":3.15,"pred":2.63},{"obs":3.15,"pred":2.42},{"obs":3.15,"pred":2.3},{"obs":3.15,"pred":2.27},{"obs":3.15,"pred":2.23},{"obs":3.15,"pred":2.12}
]
},
"concat": [
{
"width": 360, "height": 372,
"title": {"text": "Yield Prediction", "orient": "bottom", "offset": 3, "dx": -12},
"layer": [
{"data": {"name": "ya"}, "mark": {"type": "circle", "size": 82, "color": "#4169e1", "opacity": 0.6, "stroke": "#1c2a80", "strokeWidth": 0.7, "clip": true},
 "encoding": {
  "x": {"field": "obs", "type": "quantitative", "scale": {"domain": [-10, 110], "nice": false, "zero": false}, "axis": {"values": [0, 20, 40, 60, 80, 100], "title": "Observed Yield (%)"}},
  "y": {"field": "pred", "type": "quantitative", "scale": {"domain": [-10, 110], "nice": false, "zero": false}, "axis": {"values": [0, 20, 40, 60, 80, 100], "title": "Predicted Yield (%)"}}}},
{"data": {"values": [{}]}, "mark": {"type": "rule", "color": "#333333", "strokeWidth": 1},
 "encoding": {"x": {"datum": -10}, "y": {"datum": -10}, "x2": {"datum": 110}, "y2": {"datum": 110}}},
{"data": {"values": [{}]}, "mark": {"type": "text", "text": "R\u00b2 = 0.969", "font": "DejaVu Sans", "fontSize": 17, "color": "#333333", "align": "left", "baseline": "alphabetic"},
 "encoding": {"x": {"datum": 2.6}, "y": {"datum": 90.5}}},
{"data": {"values": [{}]}, "mark": {"type": "text", "text": "RMSE = 4.81", "font": "DejaVu Sans", "fontSize": 17, "color": "#333333", "align": "left", "baseline": "alphabetic"},
 "encoding": {"x": {"datum": 2.6}, "y": {"datum": 82.0}}},
{"data": {"values": [{}]}, "mark": {"type": "text", "text": "a", "font": "Liberation Sans", "fontSize": 27, "fontWeight": "bold", "color": "#000000", "align": "center", "baseline": "alphabetic"},
 "encoding": {"x": {"datum": -34.5}, "y": {"datum": 105.4}}}
]
},
{
"width": 356, "height": 372,
"title": {"text": "Enantioselectivity Prediction", "orient": "bottom", "offset": 3, "dx": 6},
"layer": [
{"data": {"name": "ea"}, "mark": {"type": "circle", "size": 82, "color": "#4169e1", "opacity": 0.6, "stroke": "#1c2a80", "strokeWidth": 0.7, "clip": true},
 "encoding": {
  "x": {"field": "obs", "type": "quantitative", "scale": {"domain": [-1.3, 4.1], "nice": false, "zero": false}, "axis": {"values": [-1, 0, 1, 2, 3, 4], "format": "d", "title": "Observed \u0394\u0394\ud835\ude42 (kcal mol\u207b\u00b9)", "titleX": 190}},
  "y": {"field": "pred", "type": "quantitative", "scale": {"domain": [-1.27, 4.24], "nice": false, "zero": false}, "axis": {"values": [-1, 0, 1, 2, 3, 4], "format": "d", "title": "Predicted \u0394\u0394\ud835\ude42 (kcal mol\u207b\u00b9)"}}}},
{"data": {"values": [{}]}, "mark": {"type": "rule", "color": "#333333", "strokeWidth": 1},
 "encoding": {"x": {"datum": -1}, "y": {"datum": -1}, "x2": {"datum": 4}, "y2": {"datum": 4}}},
{"data": {"values": [{}]}, "mark": {"type": "text", "text": "R\u00b2 = 0.915", "font": "DejaVu Sans", "fontSize": 17, "color": "#333333", "align": "left", "baseline": "alphabetic"},
 "encoding": {"x": {"datum": -0.784}, "y": {"datum": 3.46}}},
{"data": {"values": [{}]}, "mark": {"type": "text", "text": "RMSE = 0.197", "font": "DejaVu Sans", "fontSize": 17, "color": "#333333", "align": "left", "baseline": "alphabetic"},
 "encoding": {"x": {"datum": -0.784}, "y": {"datum": 3.1}}}
]
},
{
"width": 360, "height": 372,
"title": {"text": "Yield Prediction", "orient": "bottom", "offset": 3, "dx": -12},
"layer": [
{"data": {"name": "yb"}, "mark": {"type": "circle", "size": 82, "color": "#4169e1", "opacity": 0.6, "stroke": "#1c2a80", "strokeWidth": 0.7, "clip": true},
 "encoding": {
  "x": {"field": "obs", "type": "quantitative", "scale": {"domain": [-10, 110], "nice": false, "zero": false}, "axis": {"values": [0, 20, 40, 60, 80, 100], "title": "Observed Yield (%)"}},
  "y": {"field": "pred", "type": "quantitative", "scale": {"domain": [-10, 110], "nice": false, "zero": false}, "axis": {"values": [0, 20, 40, 60, 80, 100], "title": "Predicted Yield (%)"}}}},
{"data": {"values": [{}]}, "mark": {"type": "rule", "color": "#333333", "strokeWidth": 1},
 "encoding": {"x": {"datum": -10}, "y": {"datum": -10}, "x2": {"datum": 110}, "y2": {"datum": 110}}},
{"data": {"values": [{}]}, "mark": {"type": "text", "text": "R\u00b2 = 0.974", "font": "DejaVu Sans", "fontSize": 17, "color": "#333333", "align": "left", "baseline": "alphabetic"},
 "encoding": {"x": {"datum": 2.6}, "y": {"datum": 90.3}}},
{"data": {"values": [{}]}, "mark": {"type": "text", "text": "RMSE = 4.41", "font": "DejaVu Sans", "fontSize": 17, "color": "#333333", "align": "left", "baseline": "alphabetic"},
 "encoding": {"x": {"datum": 2.6}, "y": {"datum": 82.5}}},
{"data": {"values": [{}]}, "mark": {"type": "text", "text": "b", "font": "Liberation Sans", "fontSize": 27, "fontWeight": "bold", "color": "#000000", "align": "center", "baseline": "alphabetic"},
 "encoding": {"x": {"datum": -34.5}, "y": {"datum": 112.3}}}
]
},
{
"width": 356, "height": 372,
"title": {"text": "Enantioselectivity Prediction", "orient": "bottom", "offset": 3, "dx": 6},
"layer": [
{"data": {"name": "eb"}, "mark": {"type": "circle", "size": 82, "color": "#4169e1", "opacity": 0.6, "stroke": "#1c2a80", "strokeWidth": 0.7, "clip": true},
 "encoding": {
  "x": {"field": "obs", "type": "quantitative", "scale": {"domain": [-1.3, 4.1], "nice": false, "zero": false}, "axis": {"values": [-1, 0, 1, 2, 3, 4], "format": "d", "title": "Observed \u0394\u0394\ud835\ude42 (kcal mol\u207b\u00b9)", "titleX": 190}},
  "y": {"field": "pred", "type": "quantitative", "scale": {"domain": [-1.28, 4.27], "nice": false, "zero": false}, "axis": {"values": [-1, 0, 1, 2, 3, 4], "format": "d", "title": "Predicted \u0394\u0394\ud835\ude42 (kcal mol\u207b\u00b9)"}}}},
{"data": {"values": [{}]}, "mark": {"type": "rule", "color": "#333333", "strokeWidth": 1},
 "encoding": {"x": {"datum": -1}, "y": {"datum": -1}, "x2": {"datum": 4}, "y2": {"datum": 4}}},
{"data": {"values": [{}]}, "mark": {"type": "text", "text": "R\u00b2 = 0.915", "font": "DejaVu Sans", "fontSize": 17, "color": "#333333", "align": "left", "baseline": "alphabetic"},
 "encoding": {"x": {"datum": -0.784}, "y": {"datum": 3.48}}},
{"data": {"values": [{}]}, "mark": {"type": "text", "text": "RMSE = 0.196", "font": "DejaVu Sans", "fontSize": 17, "color": "#333333", "align": "left", "baseline": "alphabetic"},
 "encoding": {"x": {"datum": -0.784}, "y": {"datum": 3.13}}}
]
}
],
"config": {
"view": {"stroke": null},
"axis": {"domain": false, "ticks": false, "grid": false, "labelFont": "DejaVu Sans", "labelFontSize": 17, "labelColor": "#333333", "titleFont": "Liberation Sans", "titleFontSize": 20, "titleFontWeight": "normal", "titleColor": "#222222"},
"axisX": {"labelPadding": 5, "titlePadding": 8},
"axisY": {"labelPadding": 5, "titlePadding": 6},
"title": {"font": "Liberation Sans", "fontSize": 20, "fontWeight": "bold", "color": "#000000"}
}
}
